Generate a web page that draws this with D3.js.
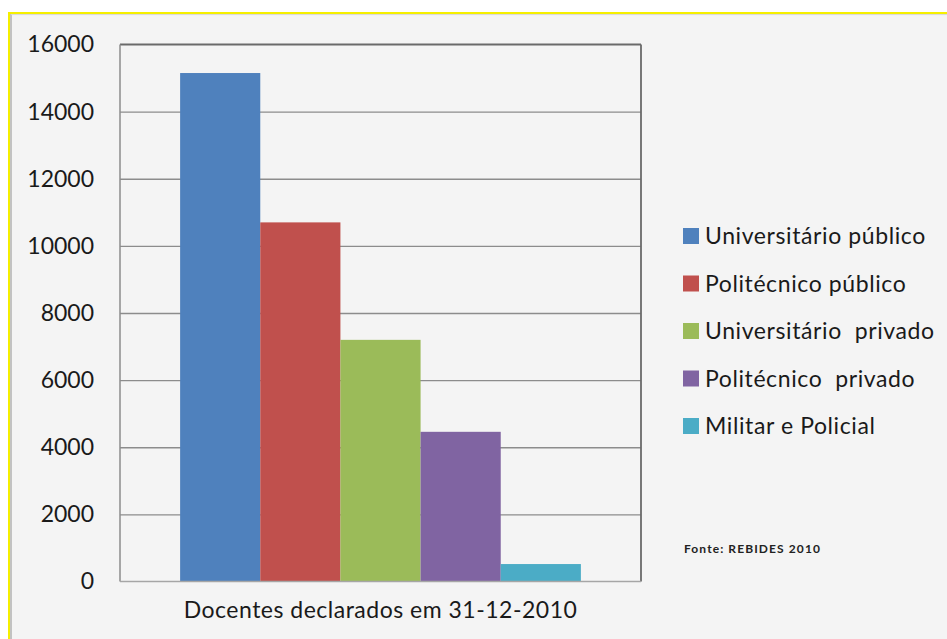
<!DOCTYPE html>
<html>
<head>
<meta charset="utf-8">
<script src="https://cdn.jsdelivr.net/npm/d3@7"></script>
<style>
  html, body { margin: 0; padding: 0; background: #ffffff; }
  svg { display: block; }
</style>
</head>
<body>
<svg id="chart" width="947" height="639"></svg>
<script>
// ---- data ----
const categories = ["Docentes declarados em 31-12-2010"];
const seriesNames = ["Universitário público", "Politécnico público", "Universitário  privado", "Politécnico  privado", "Militar e Policial"];
const seriesValues = [15150, 10700, 7200, 4460, 520];
const seriesColors = ["#4f81bd", "#c0504d", "#9bbb59", "#8064a2", "#4bacc6"];
const yTicks = [0, 2000, 4000, 6000, 8000, 10000, 12000, 14000, 16000];
const sourceNote = "Fonte: REBIDES 2010";

// ---- layout ----
const W = 947, H = 639;
const plot = { left: 120, right: 641, top: 44.5, bottom: 581.5 };
const FONT = "Lato, 'Open Sans', sans-serif";

const svg = d3.select("#chart");

// chart background + border
svg.append("rect").attr("x", 0).attr("y", 0).attr("width", W).attr("height", H).attr("fill", "#ffffff");
svg.append("rect").attr("x", 9).attr("y", 13).attr("width", W + 10).attr("height", H + 10)
  .attr("fill", "#f4f4f4").attr("stroke", "#f5ef00").attr("stroke-width", 2);
svg.append("line").attr("x1", 11).attr("x2", 11).attr("y1", 14).attr("y2", H)
  .attr("stroke", "#a0a0a0").attr("stroke-width", 1.2);
svg.append("line").attr("x1", 11).attr("x2", W).attr("y1", 14.6).attr("y2", 14.6)
  .attr("stroke", "#d8d8d8").attr("stroke-width", 1);

// scales
const y = d3.scaleLinear().domain([0, 16000]).range([plot.bottom, plot.top]);
const x0 = d3.scaleBand().domain(categories).range([plot.left, plot.right]).paddingInner(0).paddingOuter(0.15);
const x1 = d3.scaleBand().domain(seriesNames).range([0, x0.bandwidth()]).padding(0);

// gridlines
const grid = svg.append("g").attr("transform", `translate(${plot.left},0)`)
  .call(d3.axisLeft(y).tickValues(yTicks.filter(t => t > 0 && t < 16000)).tickSize(-(plot.right - plot.left)).tickFormat(""));
grid.select(".domain").remove();
grid.selectAll(".tick line").attr("stroke", "#8c8c8c").attr("stroke-width", 1.3);

// bars
const g = svg.append("g").attr("transform", `translate(${x0(categories[0])},0)`);
g.selectAll("rect.bar").data(seriesNames.map((n, i) => ({ n, v: seriesValues[i], c: seriesColors[i] })))
  .join("rect").attr("class", "bar")
  .attr("x", d => x1(d.n))
  .attr("width", x1.bandwidth())
  .attr("y", d => y(d.v))
  .attr("height", d => y(0) - y(d.v))
  .attr("fill", d => d.c);

// plot frame: top & right dark, left axis, bottom axis
svg.append("line").attr("x1", plot.left).attr("x2", plot.right).attr("y1", plot.top).attr("y2", plot.top)
  .attr("stroke", "#6a6a6a").attr("stroke-width", 1.8);
svg.append("line").attr("x1", plot.right).attr("x2", plot.right).attr("y1", plot.top).attr("y2", plot.bottom)
  .attr("stroke", "#6a6a6a").attr("stroke-width", 1.8);
svg.append("line").attr("x1", plot.left).attr("x2", plot.left).attr("y1", plot.top).attr("y2", plot.bottom)
  .attr("stroke", "#8c8c8c").attr("stroke-width", 1.5);
svg.append("line").attr("x1", plot.left).attr("x2", plot.right).attr("y1", plot.bottom).attr("y2", plot.bottom)
  .attr("stroke", "#a6a6a6").attr("stroke-width", 1.5);

// y axis labels
const yAxis = svg.append("g").attr("transform", `translate(${plot.left},0)`)
  .call(d3.axisLeft(y).tickValues(yTicks).tickSize(0).tickPadding(26).tickFormat(d3.format("d")));
yAxis.select(".domain").remove();
yAxis.selectAll("text").attr("font-family", FONT).attr("font-size", 23).attr("fill", "#1a1a1a");

// x axis label (category)
const xAxis = svg.append("g").attr("transform", `translate(0,${plot.bottom})`)
  .call(d3.axisBottom(x0).tickSize(0).tickPadding(20));
xAxis.select(".domain").remove();
xAxis.selectAll("text").attr("font-family", FONT).attr("font-size", 23).attr("fill", "#1a1a1a")
  .attr("letter-spacing", 0.5);

// legend
const legend = svg.append("g").attr("transform", "translate(683,236)");
const items = legend.selectAll("g").data(seriesNames).join("g")
  .attr("transform", (d, i) => `translate(0,${i * 47.5})`);
items.append("rect").attr("x", 0).attr("y", -8).attr("width", 16).attr("height", 16)
  .attr("fill", (d, i) => seriesColors[i]);
items.append("text").attr("x", 22).attr("y", 0).attr("dy", "0.36em")
  .attr("font-family", FONT).attr("font-size", 23).attr("fill", "#1a1a1a")
  .attr("letter-spacing", 0.6).style("white-space", "pre")
  .text(d => d);

// source note
svg.append("text").attr("x", 684).attr("y", 553)
  .attr("font-family", FONT).attr("font-size", 12).attr("font-weight", "bold").attr("fill", "#222")
  .attr("letter-spacing", 1.1)
  .text(sourceNote);
</script>
</body>
</html>
